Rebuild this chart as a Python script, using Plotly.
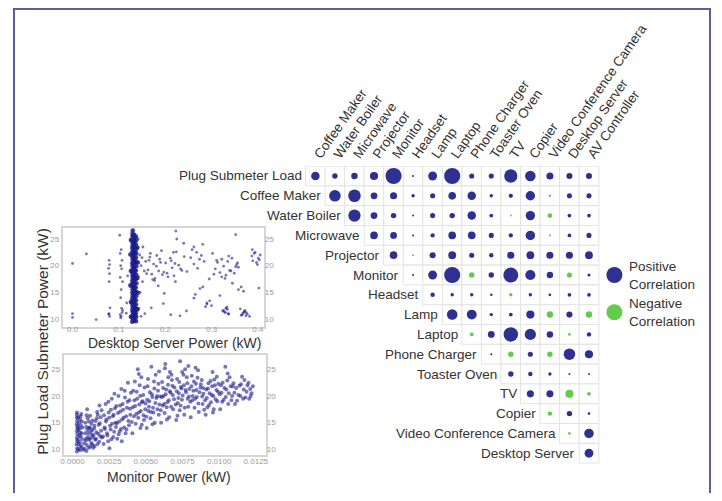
import plotly.graph_objects as go

W, H = 706, 485          # page body margin of 8px puts the figure at (8, 8)
OFF = 8
FONT = "Liberation Sans"
BLUE = "#2e3192"
GREEN = "#62cc4a"
TXT = "#333333"
DOT = "#1a1a8c"

# ---------------- correlation matrix data ----------------
row_labels = ["Plug Submeter Load", "Coffee Maker", "Water Boiler", "Microwave", "Projector",
              "Monitor", "Headset", "Lamp", "Laptop", "Phone Charger", "Toaster Oven", "TV",
              "Copier", "Video Conference Camera", "Desktop Server"]
col_labels = ["Coffee Maker", "Water Boiler", "Microwave", "Projector", "Monitor", "Headset",
              "Lamp", "Laptop", "Phone Charger", "Toaster Oven", "TV", "Copier",
              "Video Conference Camera", "Desktop Server", "AV Controller"]
# each row lists correlations starting at its first shown column
corr_rows = [
    [0.50, 0.32, 0.38, 0.48, 0.95, 0.12, 0.52, 0.95, 0.30, 0.30, 0.78, 0.62, 0.42, 0.36, 0.36],
    [0.68, 0.74, 0.40, 0.42, 0.20, 0.30, 0.45, 0.50, 0.20, 0.25, 0.55, -0.15, 0.30, 0.30],
    [0.72, 0.40, 0.32, 0.10, 0.30, 0.32, 0.50, 0.22, -0.08, 0.55, -0.28, 0.22, 0.22],
    [0.45, 0.40, 0.12, 0.25, 0.45, 0.45, 0.30, 0.25, 0.56, -0.08, 0.22, 0.30],
    [0.45, -0.12, 0.36, 0.46, 0.30, 0.26, 0.42, 0.46, 0.42, 0.42, 0.46],
    [0.12, 0.52, 0.95, -0.32, 0.32, 0.88, 0.60, 0.38, -0.30, 0.18],
    [0.26, 0.20, 0.20, 0.14, -0.20, 0.20, 0.16, 0.22, 0.22],
    [0.62, 0.58, 0.20, 0.22, 0.48, -0.38, 0.36, -0.38],
    [-0.22, 0.40, 0.85, 0.66, 0.38, -0.16, 0.26],
    [0.12, -0.32, 0.30, -0.32, 0.68, 0.48],
    [0.32, 0.26, 0.20, 0.06, 0.06],
    [0.42, 0.42, -0.48, -0.22],
    [-0.26, 0.32, 0.16],
    [-0.16, 0.56],
    [0.52],
]
row_start = [0] + list(range(1, 15))

legend_labels = ["Positive<br>Correlation", "Negative<br>Correlation"]
legend_colors = [BLUE, GREEN]
legend_rows = [5.0, 6.88]

# ---------------- Desktop Server vs plug load: dense band ----------------
band_x = [
    0.129, 0.130, 0.1295, 0.130, 0.129, 0.1298, 0.1292, 0.130, 0.129, 0.1297, 0.1293, 0.130,
    0.129, 0.1296, 0.1291, 0.130, 0.1294, 0.129, 0.130, 0.1295, 0.129, 0.1299, 0.1292, 0.130,
    0.1294, 0.129, 0.1298, 0.1293, 0.130, 0.1296, 0.1295, 0.130,
    0.133, 0.134, 0.1335, 0.1338, 0.1332, 0.134, 0.133, 0.1336, 0.1333, 0.134, 0.1331, 0.1337,
    0.1334, 0.133, 0.1339, 0.1332, 0.1336, 0.134, 0.133, 0.1335, 0.1338, 0.1331, 0.1334, 0.134,
    0.1333, 0.1337, 0.133, 0.1336, 0.1334, 0.1335,
    0.137, 0.1375, 0.1365, 0.138, 0.137, 0.1368, 0.1377, 0.1372, 0.1366, 0.1379, 0.137, 0.1374,
    0.1367, 0.1378, 0.1371, 0.1369, 0.1376, 0.1373, 0.1368, 0.1372, 0.137,
    0.126, 0.140, 0.126, 0.141, 0.125, 0.140, 0.126, 0.141, 0.125, 0.140, 0.126,
]
band_y = [
    9.5, 10.1, 10.6, 11.2, 11.7, 12.3, 12.8, 13.4, 13.9, 14.5, 15.0, 15.6,
    16.1, 16.7, 17.2, 17.8, 18.3, 18.9, 19.4, 20.0, 20.5, 21.1, 21.6, 22.2,
    22.7, 23.3, 23.8, 24.4, 24.9, 25.5, 26.0, 26.6,
    9.7, 10.3, 10.9, 11.4, 12.0, 12.5, 13.1, 13.6, 14.2, 14.7, 15.3, 15.8,
    16.4, 16.9, 17.5, 18.0, 18.6, 19.1, 19.7, 20.2, 20.8, 21.3, 21.9, 22.4,
    23.0, 23.5, 24.1, 24.6, 25.2, 25.8,
    9.6, 10.4, 11.1, 11.9, 12.7, 13.5, 14.3, 15.1, 15.9, 16.7, 17.5, 18.3,
    19.1, 19.9, 20.7, 21.5, 22.3, 23.1, 23.9, 24.7, 25.4,
    10.4, 11.8, 13.2, 14.9, 16.3, 17.7, 19.0, 20.6, 22.1, 23.4, 24.8,
]

# ---------------- Desktop Server vs plug load: sparse points ----------------
server_x = [
    0.000, 0.000, 0.000, 0.030, 0.051,
    0.079, 0.080, 0.078, 0.080, 0.079, 0.081, 0.079, 0.080, 0.078,
    0.102, 0.105, 0.103, 0.107, 0.104, 0.106, 0.103, 0.108, 0.105, 0.104, 0.106, 0.107, 0.103,
    0.105, 0.104, 0.108, 0.117, 0.119, 0.116,
    0.145, 0.150, 0.148, 0.155, 0.142, 0.160, 0.151, 0.146, 0.143, 0.156, 0.148, 0.142, 0.152,
    0.158, 0.163, 0.167, 0.171, 0.175, 0.178, 0.182, 0.186, 0.190, 0.194, 0.168, 0.173, 0.181,
    0.188, 0.197, 0.201, 0.206, 0.211, 0.215, 0.219, 0.224, 0.229, 0.233, 0.165, 0.177, 0.192,
    0.204, 0.213, 0.222, 0.236, 0.241, 0.247,
    0.221, 0.223, 0.225, 0.218,
    0.255, 0.262, 0.268, 0.274, 0.281, 0.287, 0.258, 0.270, 0.284, 0.265, 0.278, 0.290, 0.295,
    0.302, 0.308, 0.313, 0.318, 0.322, 0.326, 0.331, 0.335, 0.339, 0.344, 0.349, 0.354, 0.358,
    0.311, 0.329, 0.342, 0.356, 0.305, 0.337,
    0.322, 0.326, 0.330, 0.334, 0.328, 0.333, 0.337, 0.324, 0.331, 0.336,
    0.362, 0.366, 0.370, 0.374, 0.368, 0.372, 0.377, 0.364, 0.371, 0.375,
    0.382, 0.387, 0.392, 0.397, 0.401, 0.405, 0.389, 0.399, 0.394, 0.403,
    0.352, 0.358, 0.364, 0.369, 0.402, 0.300, 0.290, 0.262, 0.246, 0.232, 0.196, 0.185, 0.212,
    0.318, 0.352, 0.281, 0.262, 0.388, 0.240, 0.275, 0.170, 0.198, 0.296, 0.345,
]
server_y = [
    20.4, 11.0, 10.3, 22.2, 9.9,
    21.0, 20.2, 19.5, 18.5, 17.0, 12.1, 11.0, 10.5, 10.9,
    25.7, 23.0, 22.3, 21.0, 20.0, 19.4, 17.8, 17.0, 15.5, 14.0, 12.0, 11.2, 10.8,
    10.5, 10.2, 11.6, 13.0, 18.1, 11.1,
    22.0, 21.5, 20.0, 19.0, 18.0, 18.5, 17.0, 15.0, 12.0, 11.0, 10.5, 25.0, 23.5,
    20.8, 19.2, 21.6, 18.4, 20.3, 17.6, 21.9, 19.0, 20.6, 18.3, 22.3, 17.4, 19.9, 21.2,
    18.8, 20.5, 17.9, 21.4, 19.6, 18.1, 22.6, 20.1, 19.4, 21.0, 17.2, 22.8, 18.6,
    20.9, 17.0, 19.1, 21.7, 18.9, 20.4,
    26.5, 25.0, 22.5, 21.5,
    20.3, 22.5, 21.2, 16.0, 12.3, 23.0, 19.5, 20.8, 14.6, 21.9, 13.0, 17.5, 22.3,
    19.4, 20.6, 18.7, 21.2, 19.9, 18.2, 20.8, 19.1, 21.4, 18.6, 20.2, 19.7, 21.0,
    17.6, 19.0, 20.5, 18.4, 21.8, 17.9,
    11.6, 11.2, 11.8, 11.3, 12.2, 10.9, 11.5, 12.0, 11.0, 11.9,
    10.8, 11.3, 10.6, 11.1, 11.6, 10.9, 10.7, 11.4, 11.2, 10.5,
    21.8, 22.3, 20.6, 21.4, 22.0, 20.9, 20.2, 22.5, 21.1, 19.8,
    15.5, 16.0, 15.2, 15.8, 12.5, 12.8, 13.9, 11.5, 10.6, 12.9, 16.2, 10.8, 14.4,
    25.8, 24.0, 23.5, 23.0, 24.2, 15.7, 12.1, 14.8, 13.4, 16.7, 17.3,
]

# ---------------- Monitor vs plug load ----------------
monitor_x = [
    0.00030, 0.00032, 0.00028, 0.00031, 0.00029, 0.00033, 0.00030, 0.00032, 0.00028, 0.00031,
    0.00030, 0.00029, 0.00031,
    0.00052, 0.00055, 0.00050, 0.00057, 0.00053, 0.00049, 0.00056, 0.00051, 0.00054,
    0.00082, 0.00098, 0.00090, 0.00105, 0.00086, 0.00101, 0.00094, 0.00088, 0.00103, 0.00096,
    0.00100, 0.00122, 0.00128, 0.00119, 0.00131, 0.00125, 0.00117, 0.00129,
    0.00142, 0.00171, 0.00155, 0.00188, 0.00163, 0.00147, 0.00179, 0.00158, 0.00192, 0.00168,
    0.00184,
    0.00212, 0.00265, 0.00238, 0.00284, 0.00221, 0.00256, 0.00293, 0.00231, 0.00274, 0.00247,
    0.00289, 0.00226, 0.00268, 0.00252,
    0.00305, 0.00362, 0.00331, 0.00385, 0.00318, 0.00349, 0.00394, 0.00327, 0.00371, 0.00342,
    0.00388, 0.00313, 0.00356, 0.00378, 0.00336,
    0.00408, 0.00463, 0.00431, 0.00487, 0.00419, 0.00452, 0.00496, 0.00427, 0.00474, 0.00441,
    0.00482, 0.00414, 0.00458, 0.00469, 0.00445,
    0.00506, 0.00561, 0.00532, 0.00588, 0.00517, 0.00549, 0.00593, 0.00524, 0.00572, 0.00541,
    0.00583, 0.00512, 0.00556, 0.00567, 0.00538,
    0.00604, 0.00659, 0.00628, 0.00686, 0.00615, 0.00647, 0.00692, 0.00621, 0.00669, 0.00638,
    0.00681, 0.00611, 0.00653, 0.00664, 0.00633,
    0.00707, 0.00762, 0.00731, 0.00789, 0.00718, 0.00746, 0.00794, 0.00725, 0.00771, 0.00739,
    0.00783, 0.00713, 0.00757, 0.00768, 0.00734,
    0.00806, 0.00861, 0.00832, 0.00887, 0.00817, 0.00848, 0.00893, 0.00824, 0.00872, 0.00841,
    0.00881, 0.00813, 0.00856,
    0.00908, 0.00963, 0.00931, 0.00987, 0.00916, 0.00949, 0.00992, 0.00923, 0.00971, 0.00942,
    0.00984, 0.00955,
    0.01007, 0.01062, 0.01031, 0.01088, 0.01016, 0.01049, 0.01093, 0.01024, 0.01071, 0.01042,
    0.01108, 0.01163, 0.01131, 0.01187, 0.01116, 0.01149, 0.01172,
    0.01205, 0.01221, 0.01212,
    # second pass
    0.00040, 0.00043, 0.00038, 0.00045, 0.00041, 0.00036, 0.00044, 0.00039, 0.00062, 0.00066,
    0.00061, 0.00068, 0.00064, 0.00060,
    0.00073, 0.00078, 0.00092, 0.00110, 0.00113, 0.00108, 0.00115, 0.00112, 0.00135, 0.00138,
    0.00134, 0.00137, 0.00095, 0.00120,
    0.00151, 0.00160, 0.00175, 0.00182, 0.00195, 0.00150, 0.00166, 0.00186, 0.00200, 0.00145,
    0.00172, 0.00198,
    0.00208, 0.00218, 0.00228, 0.00235, 0.00243, 0.00250, 0.00260, 0.00262, 0.00270, 0.00278,
    0.00281, 0.00296, 0.00299, 0.00215, 0.00245, 0.00286,
    0.00302, 0.00310, 0.00322, 0.00325, 0.00338, 0.00345, 0.00352, 0.00358, 0.00366, 0.00375,
    0.00381, 0.00392, 0.00398, 0.00368, 0.00333, 0.00315,
    0.00404, 0.00411, 0.00422, 0.00435, 0.00438, 0.00448, 0.00455, 0.00461, 0.00466, 0.00478,
    0.00484, 0.00491, 0.00498, 0.00425, 0.00472, 0.00452,
    0.00503, 0.00509, 0.00521, 0.00528, 0.00535, 0.00544, 0.00552, 0.00558, 0.00565, 0.00576,
    0.00579, 0.00586, 0.00597, 0.00515, 0.00545, 0.00590,
    0.00602, 0.00609, 0.00618, 0.00625, 0.00636, 0.00642, 0.00651, 0.00657, 0.00663, 0.00672,
    0.00678, 0.00684, 0.00695, 0.00644, 0.00675, 0.00630,
    0.00703, 0.00711, 0.00722, 0.00728, 0.00737, 0.00743, 0.00751, 0.00759, 0.00765, 0.00774,
    0.00779, 0.00786, 0.00797, 0.00716, 0.00748, 0.00790,
    0.00803, 0.00811, 0.00820, 0.00828, 0.00836, 0.00845, 0.00852, 0.00858, 0.00866, 0.00875,
    0.00884, 0.00891, 0.00898, 0.00839,
    0.00904, 0.00912, 0.00920, 0.00927, 0.00935, 0.00944, 0.00952, 0.00960, 0.00967, 0.00976,
    0.00981, 0.00995, 0.00958,
    0.01003, 0.01012, 0.01021, 0.01036, 0.01045, 0.01055, 0.01066, 0.01078, 0.01083, 0.01097,
    0.01058,
    0.01104, 0.01122, 0.01138, 0.01145, 0.01156, 0.01168, 0.01179, 0.01193,
    0.01200, 0.01215, 0.01230,
]
monitor_y = [
    9.6, 10.2, 10.9, 11.5, 12.1, 12.8, 13.4, 14.0, 14.7, 15.3,
    15.9, 16.5, 16.9,
    9.8, 10.6, 11.3, 12.4, 13.1, 13.9, 14.5, 15.6, 16.2,
    10.1, 10.8, 11.6, 12.3, 13.0, 13.6, 14.2, 15.0, 15.8, 16.4,
    17.5, 10.5, 11.2, 12.0, 12.7, 13.3, 14.1, 14.8,
    10.3, 11.0, 11.8, 12.5, 13.2, 13.9, 14.6, 15.3, 16.0, 17.0,
    18.2,
    11.0, 11.9, 12.6, 13.3, 13.8, 14.4, 15.0, 15.6, 16.2, 16.9,
    17.7, 18.5, 19.5, 10.2,
    12.0, 13.0, 13.8, 14.5, 15.2, 15.9, 16.5, 17.1, 17.8, 18.5,
    19.2, 20.0, 21.0, 22.5, 11.5,
    13.0, 14.0, 14.8, 15.5, 16.2, 16.9, 17.5, 18.1, 18.8, 19.5,
    20.2, 21.0, 22.0, 23.5, 25.0,
    14.0, 15.0, 15.8, 16.5, 17.2, 17.8, 18.4, 19.0, 19.6, 20.3,
    21.0, 21.8, 22.7, 24.0, 25.5,
    15.0, 16.0, 16.8, 17.5, 18.2, 18.8, 19.4, 20.0, 20.6, 21.2,
    21.9, 22.6, 23.5, 24.5, 26.0,
    15.5, 16.5, 17.3, 18.0, 18.7, 19.3, 19.9, 20.5, 21.1, 21.7,
    22.4, 23.2, 24.0, 25.0, 26.5,
    16.0, 17.0, 17.8, 18.5, 19.2, 19.8, 20.4, 21.0, 21.6, 22.3,
    23.0, 23.8, 24.8,
    16.5, 17.5, 18.3, 19.0, 19.6, 20.2, 20.8, 21.4, 22.0, 22.8,
    23.6, 24.5,
    17.5, 18.5, 19.3, 20.0, 20.6, 21.2, 21.8, 22.5, 23.5, 25.5,
    18.5, 19.5, 20.2, 20.8, 21.5, 22.2, 23.0,
    19.5, 20.5, 21.3,
    # second pass
    10.0, 11.0, 11.8, 12.5, 13.6, 14.3, 15.0, 16.0, 10.4, 11.9,
    13.0, 14.1, 15.2, 16.6,
    9.9, 11.1, 12.0, 10.3, 11.8, 13.0, 14.0, 15.2, 10.9, 12.2,
    13.6, 15.4, 9.7, 16.3,
    10.6, 12.0, 12.9, 11.4, 13.5, 14.4, 15.8, 14.9, 12.2, 12.7,
    16.5, 17.3,
    12.4, 14.1, 15.2, 13.0, 11.5, 15.9, 13.7, 17.4, 14.8, 12.3,
    16.5, 14.2, 18.1, 16.4, 18.9, 20.4,
    14.9, 16.8, 13.4, 18.2, 15.6, 17.4, 14.1, 19.7, 16.2, 18.9,
    15.3, 17.6, 20.6, 13.7, 21.3, 12.8,
    15.1, 17.9, 19.2, 16.6, 20.8, 15.9, 18.4, 20.0, 17.2, 19.0,
    16.4, 21.6, 18.6, 22.7, 14.6, 24.1,
    16.1, 19.3, 18.0, 20.7, 17.0, 19.8, 16.9, 21.4, 18.7, 20.0,
    17.5, 22.3, 19.9, 23.2, 14.7, 24.6,
    17.3, 19.8, 21.5, 18.5, 20.3, 17.9, 22.1, 19.2, 20.9, 18.0,
    23.0, 20.2, 21.6, 15.6, 24.0, 25.2,
    18.4, 20.9, 19.6, 22.6, 18.2, 21.4, 20.1, 22.0, 17.8, 20.7,
    23.5, 19.5, 21.3, 16.3, 24.5, 25.6,
    18.9, 21.8, 20.0, 22.7, 19.5, 21.1, 23.4, 18.6, 20.7, 22.2,
    19.9, 21.5, 17.4, 25.3,
    19.2, 21.2, 17.9, 22.4, 20.5, 18.8, 21.8, 20.0, 23.1, 19.4,
    21.1, 22.3, 16.9,
    20.3, 22.0, 18.9, 21.5, 19.8, 22.9, 20.5, 21.8, 19.2, 22.4,
    24.2,
    20.6, 19.1, 21.9, 20.0, 23.6, 21.2, 19.7, 22.0,
    22.5, 20.0, 21.8,
]

y_ticks = [10, 15, 20, 25]
server_ticks = [0.0, 0.1, 0.2, 0.3, 0.4]
server_ticktext = ["0.0", "0.1", "0.2", "0.3", "0.4"]
monitor_ticks = [0.0, 0.0025, 0.005, 0.0075, 0.01, 0.0125]
monitor_ticktext = ["0.0000", "0.0025", "0.0050", "0.0075", "0.0100", "0.0125"]


def fx(px):
    return (px - OFF) / W


def fy(py):
    return 1 - (py - OFF) / H


fig = go.Figure()

# ---------- matrix cells ----------
cell_x, cell_y, dot_s, dot_c = [], [], [], []
for r, vals in enumerate(corr_rows):
    for k, v in enumerate(vals):
        cell_x.append(row_start[r] + k)
        cell_y.append(r)
        dot_s.append(max(2.0, 17 * abs(v)))
        dot_c.append(BLUE if v > 0 else GREEN)

fig.add_trace(go.Scatter(x=cell_x, y=cell_y, mode="markers", xaxis="x2", yaxis="y2",
                         marker=dict(symbol="square", size=19.7, color="white", opacity=1,
                                     line=dict(color="#e3e3e3", width=1)),
                         hoverinfo="skip", showlegend=False))
fig.add_trace(go.Scatter(x=cell_x, y=cell_y, mode="markers", xaxis="x2", yaxis="y2",
                         marker=dict(size=dot_s, color=dot_c, opacity=1, line=dict(width=0)),
                         showlegend=False))
# legend dots
fig.add_trace(go.Scatter(x=[15.3, 15.3], y=legend_rows, mode="markers", xaxis="x2", yaxis="y2",
                         marker=dict(size=16, color=legend_colors, opacity=1), showlegend=False))

# ---------- scatter plots ----------
fig.add_trace(go.Scatter(x=server_x, y=server_y, mode="markers", xaxis="x3", yaxis="y3",
                         marker=dict(size=2.8, color=DOT, opacity=0.6), showlegend=False))
fig.add_trace(go.Scatter(x=band_x, y=band_y, mode="markers", xaxis="x3", yaxis="y3",
                         marker=dict(size=4.6, color=DOT, opacity=0.85), showlegend=False))
fig.add_trace(go.Scatter(x=[None], y=[None], xaxis="x3", yaxis="y5", showlegend=False))
fig.add_trace(go.Scatter(x=monitor_x, y=monitor_y, mode="markers", xaxis="x4", yaxis="y4",
                         marker=dict(size=4.0, color=DOT, opacity=0.6), showlegend=False))
fig.add_trace(go.Scatter(x=[None], y=[None], xaxis="x4", yaxis="y6", showlegend=False))

tickfont = dict(family=FONT, size=8, color="#9a9a9a")
box = dict(showline=True, linecolor="#d6d6d6", linewidth=1.5, mirror=True,
           showgrid=False, zeroline=False, ticks="", tickfont=tickfont)

annotations = []
for r, lab in enumerate(row_labels):
    annotations.append(dict(x=row_start[r] - 0.5, y=r, xref="x2", yref="y2", text=lab,
                            showarrow=False, xanchor="right", yanchor="middle", xshift=-2,
                            font=dict(family=FONT, size=13.5, color=TXT)))
for lab, yr in zip(legend_labels, legend_rows):
    annotations.append(dict(x=15.95, y=yr, xref="x2", yref="y2", text=lab,
                            showarrow=False, xanchor="left", yanchor="middle", align="left",
                            font=dict(family=FONT, size=13.5, color=TXT)))
annotations += [
    dict(x=fx(173), y=fy(343), xref="paper", yref="paper", text="Desktop Server Power (kW)",
         showarrow=False, xanchor="center", yanchor="middle",
         font=dict(family=FONT, size=14, color=TXT)),
    dict(x=fx(167), y=fy(477), xref="paper", yref="paper", text="Monitor Power (kW)",
         showarrow=False, xanchor="center", yanchor="middle",
         font=dict(family=FONT, size=14, color=TXT)),
    dict(x=fx(39), y=fy(341), xref="paper", yref="paper", text="Plug Load Submeter Power (kW)",
         showarrow=False, textangle=-90, xanchor="center", yanchor="middle",
         font=dict(family=FONT, size=15.5, color=TXT)),
]

fig.update_layout(
    width=W, height=H, margin=dict(l=0, r=0, t=0, b=0),
    paper_bgcolor="white", plot_bgcolor="rgba(0,0,0,0)",
    font=dict(family=FONT),
    xaxis2=dict(domain=[fx(300), fx(714)], range=[-0.761, 20.244], anchor="y2", side="top",
                tickmode="array", tickvals=list(range(15)), ticktext=col_labels,
                tickangle=-55, showgrid=False, zeroline=False, showline=False, ticks="",
                tickfont=dict(family=FONT, size=13.5, color=TXT)),
    yaxis2=dict(domain=[fy(470), fy(166)], range=[14.848, -0.505], anchor="x2",
                showticklabels=False, showgrid=False, zeroline=False, showline=False),
    xaxis3=dict(domain=[fx(60), fx(263)], range=[-0.0214, 0.4128], anchor="y3",
                tickvals=server_ticks, ticktext=server_ticktext, ticklabelstandoff=-6, **box),
    yaxis3=dict(domain=[fy(327), fy(228)], range=[8.5, 27.06], anchor="x3",
                tickvals=y_ticks, **box),
    yaxis5=dict(overlaying="y3", side="right", range=[8.5, 27.06], anchor="x3",
                tickvals=y_ticks, showgrid=False, zeroline=False, tickfont=tickfont),
    xaxis4=dict(domain=[fx(61), fx(265)], range=[-0.00061, 0.01318], anchor="y4",
                tickvals=monitor_ticks, ticktext=monitor_ticktext, ticklabelstandoff=-2, **box),
    yaxis4=dict(domain=[fy(455), fy(355)], range=[8.93, 27.68], anchor="x4",
                tickvals=y_ticks, **box),
    yaxis6=dict(overlaying="y4", side="right", range=[8.93, 27.68], anchor="x4",
                tickvals=y_ticks, showgrid=False, zeroline=False, tickfont=tickfont),
    xaxis=dict(visible=False), yaxis=dict(visible=False),
    annotations=annotations,
    shapes=[dict(type="rect", xref="paper", yref="paper", x0=fx(11), x1=fx(713),
                 y0=fy(520), y1=fy(9), line=dict(color="#5a5e9f", width=2))],
)

fig.write_html("out.html")
